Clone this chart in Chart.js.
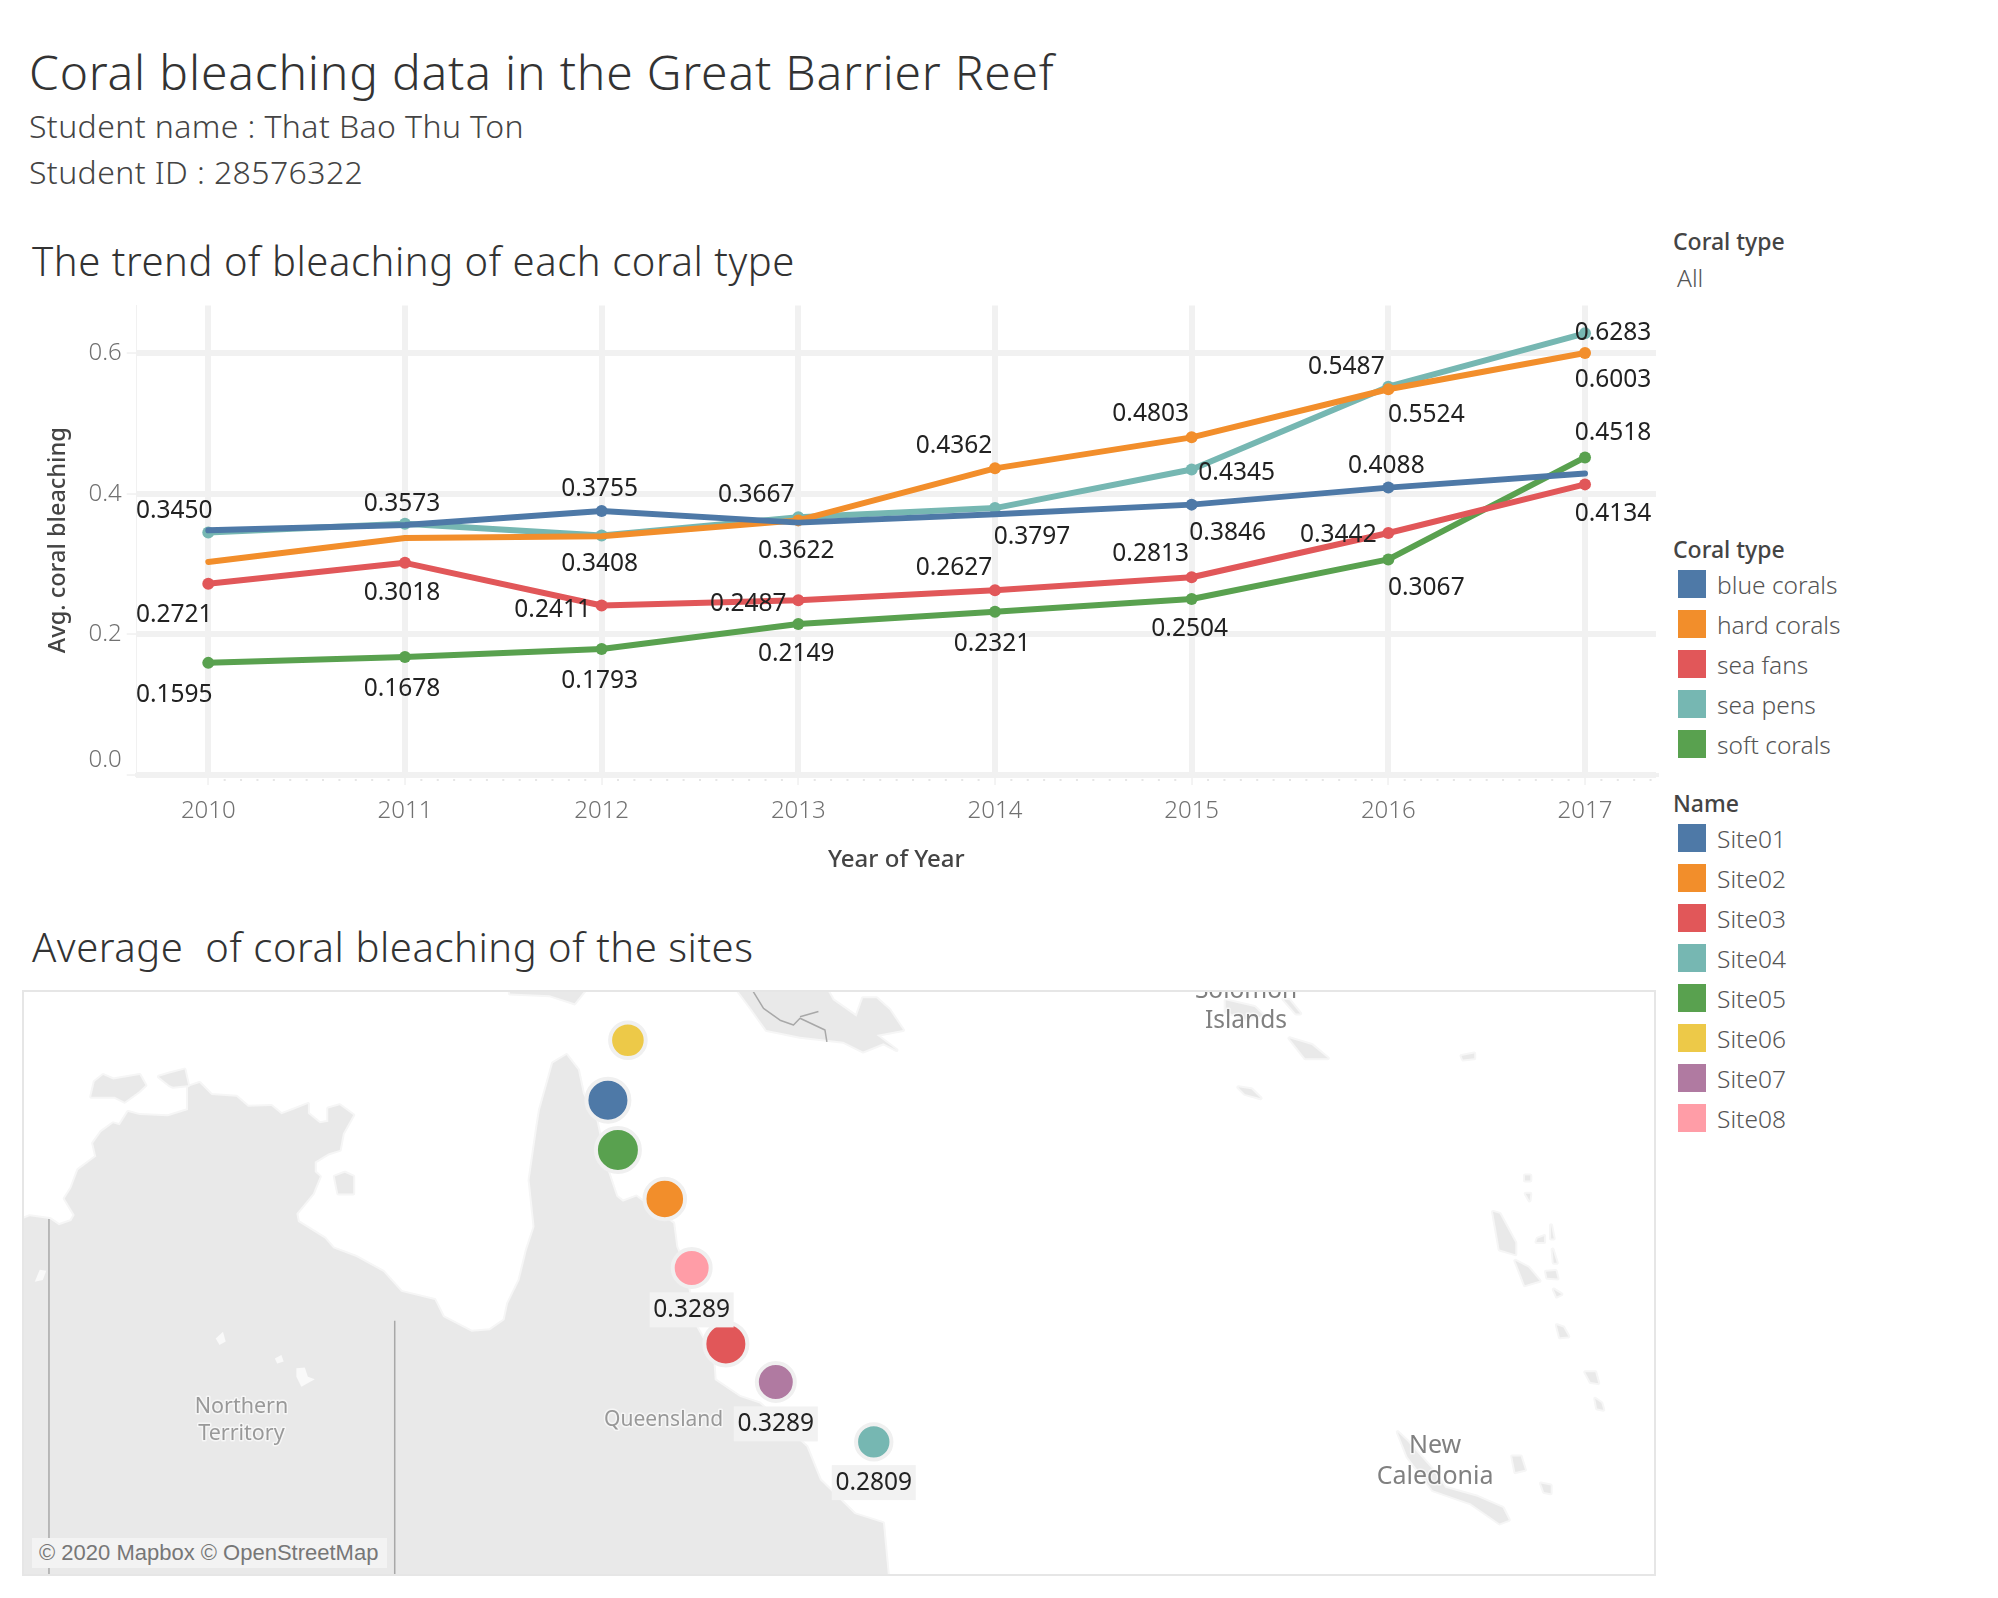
<!DOCTYPE html>
<html>
<head>
<meta charset="utf-8">
<title>Coral bleaching</title>
<script src="https://cdn.jsdelivr.net/npm/chart.js@4"></script>
<style>
    html, body { margin: 0; background: #fff; }
    body { position: relative; width: 1998px; height: 1598px; overflow: hidden; font-family: "Noto Sans", sans-serif; }
    .t { position: absolute; white-space: pre; transform: translateY(-50%); line-height: 1; }
    .main-title { left: 29px; top: 72px; font-size: 48px; font-weight: 300; color: #333; letter-spacing: 0.8px; }
    .sub-title { left: 29px; font-size: 32px; font-weight: 300; color: #444; letter-spacing: 0.4px; }
    .sec-title { left: 32px; font-size: 40px; font-weight: 300; color: #333; letter-spacing: 0.55px; }
    .leg-title { left: 1673px; font-size: 23px; font-weight: 500; color: #444; }
    .leg-item { left: 1717px; font-size: 24.5px; font-weight: 300; color: #555; }
    .swatch { position: absolute; left: 1678px; width: 28px; height: 28px; }
    #trend { position: absolute; left: 0; top: 286px; }
    #mapWrap { position: absolute; left: 24px; top: 992px; width: 1630px; height: 582px; outline: 2px solid #e6e6e6; }
    #map { position: absolute; left: 0; top: 0; }
    #credit { position: absolute; left: 8px; top: 546px; width: 355px; height: 30px; background: #f3f3f3; color: #777;
              font: 22px "Liberation Sans", sans-serif; line-height: 30px; text-indent: 7px; white-space: pre; }
</style>
</head>
<body>
<div class="t main-title">Coral bleaching data in the Great Barrier Reef</div>
<div class="t sub-title" style="top:126px">Student name : That Bao Thu Ton</div>
<div class="t sub-title" style="top:172px">Student ID : 28576322</div>
<div class="t sec-title" style="top:261px">The trend of bleaching of each coral type</div>
<div class="t sec-title" style="top:947px">Average  of coral bleaching of the sites</div>
<div class="t leg-title" style="top:241px">Coral type</div>
<div class="t leg-item" style="left:1677px;top:278px">All</div>
<div id="legends"></div>

<canvas id="trend" width="1664" height="594"></canvas>
<div id="mapWrap">
    <canvas id="map" width="1630" height="582"></canvas>
    <div id="credit">© 2020 Mapbox © OpenStreetMap</div>
</div>

<script>
// --- DATA ---
const years = [2010, 2011, 2012, 2013, 2014, 2015, 2016, 2017];
const blueCorals = [0.3480, 0.3555, 0.3755, 0.3590, 0.3710, 0.3846, 0.4088, 0.4290];
const hardCorals = [0.3030, 0.3370, 0.3395, 0.3622, 0.4362, 0.4803, 0.5487, 0.6003];
const seaFans = [0.2721, 0.3018, 0.2411, 0.2487, 0.2627, 0.2813, 0.3442, 0.4134];
const seaPens = [0.3450, 0.3573, 0.3408, 0.3667, 0.3797, 0.4345, 0.5524, 0.6283];
const softCorals = [0.1595, 0.1678, 0.1793, 0.2149, 0.2321, 0.2504, 0.3067, 0.4518];
const yTicks = [0, 0.2, 0.4, 0.6];

const coralTypes = ['blue corals', 'hard corals', 'sea fans', 'sea pens', 'soft corals'];
const siteNames = ['Site01', 'Site02', 'Site03', 'Site04', 'Site05', 'Site06', 'Site07', 'Site08'];
const siteLon = [143.55, 145.03, 146.62, 150.47, 143.81, 144.07, 147.92, 145.73];
const siteLat = [-11.84, -14.36, -18.06, -20.56, -13.11, -10.31, -19.03, -16.12];
const siteAvg = [0.434, 0.382, 0.434, 0.2809, 0.456, 0.285, 0.3289, 0.3289];
const siteLabelled = [false, false, false, true, false, false, true, true];

// --- STYLE ---
const palette = ['#4e79a7', '#f28e2b', '#e15759', '#76b7b2', '#59a14f', '#edc948', '#b07aa1', '#ff9da7'];
const coralValues = [blueCorals, hardCorals, seaFans, seaPens, softCorals];

// label shift from its point in px, null = no label and no marker
const labelShift = [
    [null, null, [-2, -22], null, null, [36, 28], [-2, -22], null],
    [null, null, null, [-2, 31], [-41, -22], [-41, -23], [-42, -22], [28, 27]],
    [[-34, 31], [-3, 30], [-49, 5], [-50, 4], [-41, -22], [-41, -23], [-50, 2], [28, 30]],
    [[-34, -21], [-3, -20], [-2, 29], [-42, -22], [37, 29], [45, 3], [38, 28], [28, 0]],
    [[-34, 32], [-3, 32], [-2, 32], [-2, 30], [-3, 32], [-2, 30], [38, 29], [28, -24]],
];

const labelFont = '400 24.5px "Noto Sans"';

// --- MAP BACKDROP (lon, lat) ---
const mainland = [
    [128, -14.86], [128.35, -14.86], [128.50, -14.80], [129.02, -14.87], [129.26, -15.03], [129.58, -14.92], [129.67, -14.77],
    [129.41, -14.35], [129.58, -14.09], [129.76, -13.62], [130.23, -13.28], [130.15, -12.94], [130.36, -12.65], [130.67, -12.43],
    [130.84, -12.48], [131.06, -12.14], [131.36, -12.22], [132.10, -12.25], [132.62, -12.09], [132.62, -11.50], [132.92, -11.40],
    [133.23, -11.71], [133.88, -11.75], [134.18, -12.01], [134.79, -11.99], [135.05, -12.20], [135.35, -12.09], [135.74, -11.94],
    [135.74, -12.18], [136.05, -12.43], [136.27, -12.39], [136.27, -12.05], [136.57, -11.97], [136.92, -12.22], [136.65, -12.69],
    [136.57, -13.11], [136.27, -13.20], [135.92, -13.41], [135.92, -13.67], [136.05, -13.79], [135.87, -14.22], [135.44, -14.73],
    [135.48, -14.94], [136.18, -15.37], [136.40, -15.62], [137.00, -15.84], [137.70, -16.22], [138.17, -16.73], [139.04, -16.94],
    [139.26, -17.37], [140.00, -17.75], [140.48, -17.71], [140.86, -17.45], [140.95, -17.03], [141.25, -16.43], [141.44, -15.66],
    [141.64, -15.07], [141.51, -13.88], [141.71, -12.52], [141.78, -12.09], [142.12, -10.90], [142.47, -10.69], [142.77, -11.07],
    [142.90, -11.67], [143.25, -12.35], [143.51, -13.54], [143.77, -14.30], [143.94, -14.43], [144.29, -14.30], [144.64, -14.56],
    [145.25, -14.98], [145.33, -15.58], [145.51, -16.00], [145.85, -17.62], [146.29, -18.39], [146.33, -18.98], [146.98, -19.41],
    [147.50, -19.58], [148.72, -20.68], [149.07, -21.53], [149.97, -22.40], [150.71, -22.63], [150.89, -24.50], [128, -24.50],
];
const islands = [
    [[130.19, -11.37], [130.41, -11.20], [130.67, -11.31], [131.36, -11.20], [131.51, -11.46], [131.32, -11.63], [130.97, -11.88], [130.71, -11.75], [130.10, -11.75]],
    [[131.86, -11.24], [132.14, -11.16], [132.53, -11.06], [132.62, -11.46], [132.23, -11.50], [132.14, -11.46]],
    [[136.44, -13.79], [136.70, -13.69], [136.92, -13.79], [136.92, -14.22], [136.53, -14.22]],
    [[146.90, -9.00], [147.25, -9.46], [147.68, -10.05], [148.55, -10.22], [149.68, -10.35], [150.19, -10.60], [150.72, -10.39], [151.06, -10.56], [150.54, -10.18], [151.23, -10.05], [150.88, -9.54], [150.54, -9.24], [150.19, -9.24], [150.02, -9.71], [149.41, -9.29], [149.24, -9.00]],
    [[140.99, -9.00], [141.00, -9.12], [142.03, -9.16], [142.68, -9.37], [142.98, -9.00]],
    [[159.63, -9.29], [160.38, -9.46], [160.63, -9.69], [160.13, -9.78], [159.63, -9.58]],
    [[161.29, -10.26], [161.87, -10.43], [162.29, -10.77], [161.70, -10.77]],
    [[161.29, -9.29], [161.57, -9.63], [161.46, -9.63], [161.13, -9.26]],
    [[159.96, -11.51], [160.30, -11.56], [160.54, -11.79], [160.13, -11.68]],
    [[165.77, -10.71], [166.10, -10.65], [166.10, -10.77], [165.81, -10.80]],
    [[166.59, -14.69], [166.76, -14.74], [167.17, -15.48], [167.17, -15.77], [166.76, -15.65]],
    [[167.17, -15.94], [167.51, -16.11], [167.80, -16.45], [167.42, -16.56]],
    [[167.42, -13.76], [167.56, -13.76], [167.56, -13.89], [167.42, -13.89]],
    [[167.44, -14.23], [167.56, -14.23], [167.54, -14.40]],
    [[167.75, -15.37], [167.92, -15.31], [167.92, -15.46], [167.72, -15.46]],
    [[168.10, -15.03], [168.17, -15.37], [168.10, -15.37]],
    [[168.14, -15.65], [168.25, -15.99], [168.17, -15.99]],
    [[167.97, -16.22], [168.22, -16.20], [168.27, -16.39], [168.00, -16.37]],
    [[168.17, -16.67], [168.37, -16.79], [168.25, -16.85]],
    [[168.25, -17.58], [168.42, -17.64], [168.55, -17.87], [168.33, -17.89]],
    [[168.99, -18.78], [169.25, -18.78], [169.33, -19.06], [169.13, -19.03]],
    [[169.25, -19.46], [169.41, -19.57], [169.46, -19.74], [169.30, -19.71]],
    [[164.11, -20.31], [164.36, -20.54], [165.02, -21.27], [165.35, -21.73], [166.18, -21.96], [166.84, -22.24], [167.00, -22.55], [166.76, -22.64], [166.01, -22.13], [165.02, -21.79], [164.36, -20.93]],
    [[167.09, -20.93], [167.31, -20.93], [167.42, -21.27], [167.17, -21.33]],
    [[167.84, -21.62], [168.09, -21.67], [168.09, -21.87], [167.92, -21.84]],
];
const lakes = [
    [[128.63, -16.47], [128.76, -16.17], [128.93, -16.19], [128.84, -16.43]],
    [[133.34, -17.92], [133.53, -17.75], [133.60, -18.00], [133.44, -18.09]],
    [[134.88, -18.43], [135.05, -18.34], [135.11, -18.51], [134.94, -18.56]],
    [[135.44, -18.68], [135.66, -18.66], [135.74, -18.90], [135.92, -18.96], [135.57, -19.15], [135.44, -18.90]],
];
const borders = [
    [[129, -14.87], [129, -24.5]],
    [[138, -17.47], [138, -24.5]],
    [[147.29, -9.00], [147.60, -9.50], [148.03, -9.80], [148.38, -9.92], [148.55, -9.75], [149.20, -10.05], [149.25, -10.35]],
    [[148.55, -9.71], [149.03, -9.58]],
];
const placeNames = [
    { text: 'Northern', lon: 134.01, lat: -19.67, color: '#999', size: 21.5 },
    { text: 'Territory', lon: 134.01, lat: -20.35, color: '#999', size: 21.5 },
    { text: 'Queensland', lon: 145.0, lat: -20.0, color: '#999', size: 21 },
    { text: 'Solomon', lon: 160.16, lat: -9.06, color: '#808080', size: 24.5 },
    { text: 'Islands', lon: 160.16, lat: -9.83, color: '#808080', size: 24.5 },
    { text: 'New', lon: 165.08, lat: -20.67, color: '#808080', size: 25 },
    { text: 'Caledonia', lon: 165.08, lat: -21.46, color: '#808080', size: 25 },
];

// --- RENDER FUNCTIONS ---
function renderLegends() {
    const row = (names, firstTop) => names.map((name, i) => `
        <div class="swatch" style="top:${firstTop + i * 40}px;background:${palette[i]}"></div>
        <div class="t leg-item" style="top:${firstTop + 15 + i * 40}px">${name}</div>
    `).join('');
    document.getElementById('legends').innerHTML = `
        <div class="t leg-title" style="top:549px">Coral type</div>${row(coralTypes, 570)}
        <div class="t leg-title" style="top:803px">Name</div>${row(siteNames, 824)}
    `;
}

const pointLabels = {
    id: 'pointLabels',
    afterDatasetsDraw(chart) {
        const { ctx } = chart;
        ctx.save();
        ctx.font = labelFont;
        ctx.fillStyle = '#222';
        ctx.textAlign = 'center';
        ctx.textBaseline = 'middle';
        coralValues.forEach((values, s) => {
            const meta = chart.getDatasetMeta(s);
            values.forEach((v, i) => {
                const shift = labelShift[s][i];
                if (!shift) return;
                ctx.fillText(v.toFixed(4), meta.data[i].x + shift[0], meta.data[i].y + shift[1]);
            });
        });
        ctx.restore();
    }
};

const monthDots = {
    id: 'monthDots',
    afterDraw(chart) {
        const { ctx, scales: { x, y } } = chart;
        ctx.save();
        ctx.fillStyle = '#e6e6e6';
        for (let m = 0; m < 12 * 8; m++) {
            if (m % 12 === 0) continue;
            const px = x.getPixelForValue(2010 + m / 12);
            ctx.fillRect(px - 1, y.bottom + 4, 2, 2);
        }
        ctx.restore();
    }
};

function renderTrend() {
    new Chart(document.getElementById('trend'), {
        type: 'line',
        data: {
            datasets: coralTypes.map((name, s) => ({
                label: name,
                data: years.map((year, i) => ({ x: year, y: coralValues[s][i] })),
                borderColor: palette[s],
                backgroundColor: palette[s],
                borderWidth: 6,
                borderCapStyle: 'round',
                borderJoinStyle: 'round',
                tension: 0,
                pointRadius: labelShift[s].map(shift => shift ? 6 : 0),
                pointBorderWidth: 0,
            }))
        },
        options: {
            responsive: false,
            animation: false,
            // the y axis reserves 20px over its top tick label, so the canvas starts that much higher
            layout: { autoPadding: false, padding: { top: 0, right: 8 } },
            plugins: { legend: { display: false }, tooltip: { enabled: false } },
            scales: {
                x: {
                    type: 'linear',
                    min: 2009.636,
                    max: 2017.361,
                    afterFit(s) { s.height = 105; },
                    afterBuildTicks(s) { s.ticks = years.map(value => ({ value })); },
                    grid: { color: '#f1f1f1', lineWidth: 6, tickColor: '#e8e8e8', tickWidth: 1, tickLength: 10 },
                    border: { color: '#f1f1f1', width: 4 },
                    ticks: {
                        callback: v => String(v),
                        font: { family: 'Noto Sans', size: 24, weight: 300 },
                        color: '#717171',
                        padding: 12,
                        maxRotation: 0,
                        autoSkip: false,
                    },
                    title: {
                        display: true,
                        text: 'Year of Year',
                        font: { family: 'Noto Sans', size: 24, weight: 500 },
                        color: '#444',
                        padding: { top: 0, bottom: 5 },
                    },
                },
                y: {
                    min: 0,
                    max: 0.668,
                    afterFit(s) { s.width = 136.7; },
                    afterBuildTicks(s) { s.ticks = yTicks.map(value => ({ value })); },
                    grid: { color: '#f1f1f1', lineWidth: 6, tickColor: '#e8e8e8', tickWidth: 1, tickLength: 10 },
                    border: { color: '#f1f1f1', width: 1 },
                    ticks: {
                        // 0.0 sits above its gridline in the original, the blank line pushes it up
                        callback: v => v === 0 ? ['0.0', ''] : v.toFixed(1),
                        font: { family: 'Noto Sans', size: 24, weight: 300, lineHeight: 1.2 },
                        color: '#717171',
                        padding: 5,
                    },
                    title: {
                        display: true,
                        text: 'Avg. coral bleaching',
                        font: { family: 'Noto Sans', size: 23.5, weight: 500 },
                        color: '#444',
                        padding: { top: 44, bottom: 0 },
                    },
                },
            },
        },
        plugins: [pointLabels, monthDots],
    });
}

const backdrop = {
    id: 'backdrop',
    beforeDatasetsDraw(chart) {
        const { ctx, chartArea: area, scales: { x, y } } = chart;
        const trace = shape => {
            ctx.beginPath();
            shape.forEach(([lon, lat]) => {
                ctx.lineTo(x.getPixelForValue(lon), y.getPixelForValue(lat));
            });
        };
        ctx.save();
        ctx.beginPath();
        ctx.rect(area.left, area.top, area.right - area.left, area.bottom - area.top);
        ctx.clip();
        ctx.lineJoin = 'round';

        ctx.fillStyle = '#e9e9e9';
        ctx.strokeStyle = '#f6f6f6';
        ctx.lineWidth = 4;
        [mainland, ...islands].forEach(shape => {
            trace(shape);
            ctx.closePath();
            ctx.stroke();
            ctx.fill();
        });
        ctx.fillStyle = '#f9f9f9';
        lakes.forEach(shape => { trace(shape); ctx.closePath(); ctx.fill(); });

        ctx.strokeStyle = '#a8a8a8';
        ctx.lineWidth = 1.5;
        borders.forEach(shape => { trace(shape); ctx.stroke(); });

        ctx.textAlign = 'center';
        ctx.textBaseline = 'middle';
        placeNames.forEach(p => {
            ctx.font = `${p.size}px "Noto Sans"`;
            ctx.fillStyle = p.color;
            ctx.strokeStyle = 'rgba(255,255,255,0.6)';
            ctx.lineWidth = 3;
            ctx.strokeText(p.text, x.getPixelForValue(p.lon), y.getPixelForValue(p.lat));
            ctx.fillText(p.text, x.getPixelForValue(p.lon), y.getPixelForValue(p.lat));
        });
        ctx.restore();
    }
};

const siteRadius = v => 29.6 * Math.sqrt(v);

const siteLabels = {
    id: 'siteLabels',
    afterDatasetsDraw(chart) {
        const { ctx } = chart;
        const meta = chart.getDatasetMeta(0);
        ctx.save();
        ctx.font = labelFont;
        ctx.textAlign = 'center';
        ctx.textBaseline = 'middle';
        siteAvg.forEach((v, i) => {
            if (!siteLabelled[i]) return;
            const px = meta.data[i].x;
            const py = meta.data[i].y + siteRadius(v) + 25;
            ctx.fillStyle = '#f2f2f2';
            ctx.fillRect(px - 42, py - 17.5, 84, 35);
            ctx.fillStyle = '#222';
            ctx.fillText(v.toFixed(4), px, py);
        });
        ctx.restore();
    }
};

function renderMap() {
    new Chart(document.getElementById('map'), {
        type: 'scatter',
        data: {
            datasets: [{
                data: siteNames.map((name, i) => ({ x: siteLon[i], y: siteLat[i] })),
                pointRadius: siteAvg.map(v => siteRadius(v) + 2),
                backgroundColor: palette,
                pointBorderColor: '#f0f0f0',
                pointBorderWidth: 4,
            }]
        },
        options: {
            responsive: false,
            animation: false,
            layout: { autoPadding: false, padding: 0 },
            plugins: { legend: { display: false }, tooltip: { enabled: false } },
            scales: {
                x: { type: 'linear', display: false, min: 128.35, max: 170.78 },
                y: { type: 'linear', display: false, min: -23.93, max: -9.08 },
            },
        },
        plugins: [backdrop, siteLabels],
    });
}

// --- INITIALIZATION ---
renderLegends();
renderTrend();
renderMap();
</script>
</body>
</html>
